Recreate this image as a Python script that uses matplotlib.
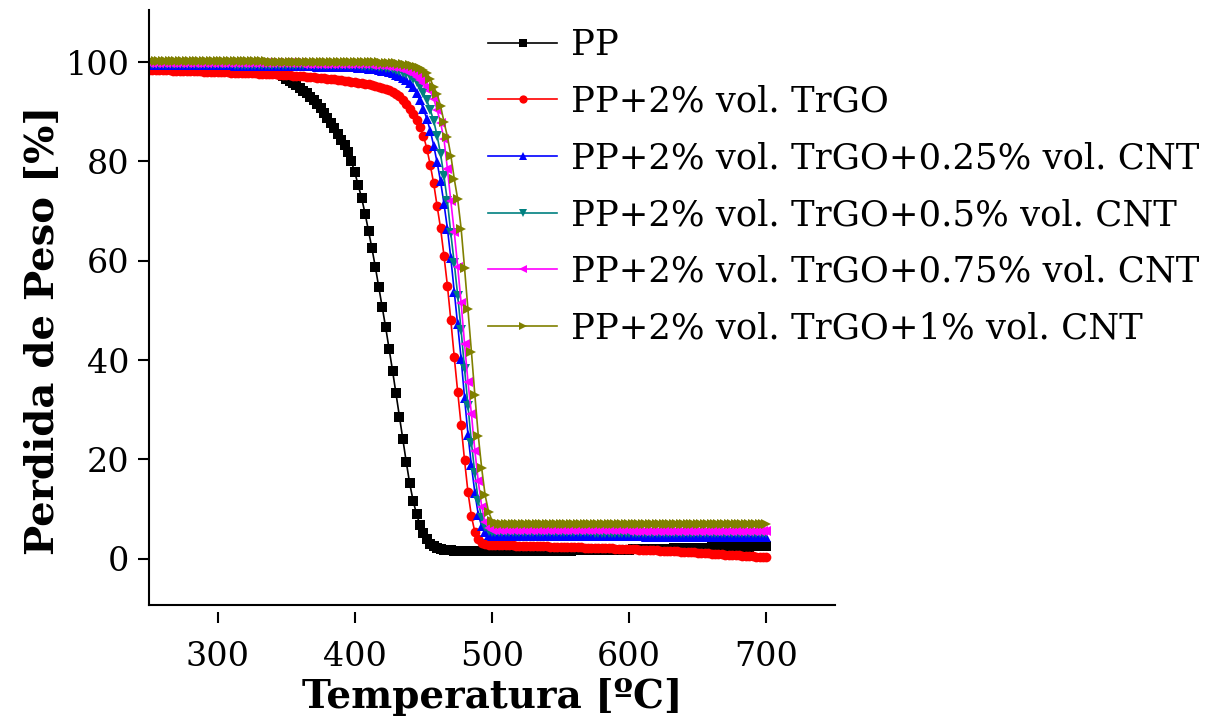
import numpy as np
import matplotlib
matplotlib.use("Agg")
import matplotlib.pyplot as plt

plt.rcParams['font.family'] = ['DejaVu Serif']

# Temperature grid of the TGA runs (deg C), one sample every 2.5 C
temperature = np.arange(250.0, 700.0 + 1e-9, 2.5)

labels = ["PP",
          "PP+2% vol. TrGO",
          "PP+2% vol. TrGO+0.25% vol. CNT",
          "PP+2% vol. TrGO+0.5% vol. CNT",
          "PP+2% vol. TrGO+0.75% vol. CNT",
          "PP+2% vol. TrGO+1% vol. CNT"]

pp = [99.3, 99.3, 99.3, 99.3, 99.3, 99.2, 99.2, 99.2, 99.2, 99.2,
      99.2, 99.2, 99.2, 99.2, 99.1, 99.1, 99.1, 99.1, 99.1, 99.1,
      99.1, 99.1, 99.0, 99.0, 99.0, 99.0, 99.0, 98.9, 98.9, 98.9,
      98.9, 98.9, 98.8, 98.7, 98.6, 98.4, 98.2, 97.9, 97.6, 97.2,
      96.7, 96.3, 95.9, 95.4, 94.8, 94.2, 93.7, 93.0, 92.3, 91.6,
      90.7, 89.8, 88.8, 87.8, 86.8, 85.6, 84.4, 83.3, 82.0, 80.0,
      77.8, 75.2, 72.6, 69.5, 66.0, 62.5, 58.7, 54.7, 50.7, 46.6,
      42.3, 37.9, 33.3, 28.6, 24.1, 19.5, 15.2, 11.7, 9.0, 6.8,
      5.2, 3.9, 3.0, 2.5, 2.1, 1.9, 1.8, 1.7, 1.7, 1.6,
      1.6, 1.6, 1.6, 1.6, 1.5, 1.5, 1.5, 1.5, 1.5, 1.5,
      1.5, 1.5, 1.5, 1.5, 1.5, 1.5, 1.5, 1.5, 1.5, 1.5,
      1.5, 1.5, 1.6, 1.6, 1.6, 1.6, 1.6, 1.6, 1.6, 1.6,
      1.6, 1.6, 1.6, 1.6, 1.7, 1.7, 1.7, 1.7, 1.7, 1.7,
      1.7, 1.7, 1.7, 1.8, 1.8, 1.8, 1.8, 1.8, 1.8, 1.8,
      1.8, 1.9, 1.9, 1.9, 1.9, 1.9, 1.9, 2.0, 2.0, 2.0,
      2.0, 2.0, 2.0, 2.1, 2.1, 2.1, 2.1, 2.1, 2.1, 2.2,
      2.2, 2.2, 2.2, 2.2, 2.3, 2.3, 2.3, 2.3, 2.3, 2.3,
      2.4, 2.4, 2.4, 2.4, 2.4, 2.4, 2.5, 2.5, 2.5, 2.5,
      2.5]

trgo = [98.5, 98.5, 98.5, 98.4, 98.4, 98.4, 98.4, 98.3, 98.3, 98.3,
        98.3, 98.3, 98.2, 98.2, 98.2, 98.2, 98.1, 98.1, 98.1, 98.1,
        98.0, 98.0, 98.0, 98.0, 97.9, 97.9, 97.9, 97.9, 97.8, 97.8,
        97.8, 97.8, 97.7, 97.7, 97.7, 97.7, 97.6, 97.6, 97.5, 97.5,
        97.4, 97.4, 97.3, 97.3, 97.2, 97.2, 97.1, 97.1, 97.0, 96.9,
        96.9, 96.8, 96.7, 96.6, 96.6, 96.5, 96.4, 96.3, 96.2, 96.1,
        96.0, 95.9, 95.8, 95.6, 95.5, 95.4, 95.2, 95.0, 94.8, 94.6,
        94.3, 94.0, 93.6, 93.1, 92.4, 91.6, 90.6, 89.6, 88.4, 86.9,
        85.2, 82.6, 79.3, 75.6, 71.0, 66.6, 61.0, 55.0, 48.0, 40.6,
        33.6, 26.9, 19.8, 13.4, 8.6, 5.4, 3.9, 3.2, 2.9, 2.8,
        2.8, 2.8, 2.8, 2.7, 2.7, 2.7, 2.7, 2.6, 2.6, 2.6,
        2.6, 2.6, 2.5, 2.5, 2.5, 2.5, 2.5, 2.4, 2.4, 2.4,
        2.4, 2.4, 2.3, 2.3, 2.3, 2.3, 2.3, 2.2, 2.2, 2.2,
        2.2, 2.2, 2.1, 2.1, 2.1, 2.1, 2.0, 2.0, 2.0, 2.0,
        1.9, 1.9, 1.9, 1.8, 1.8, 1.8, 1.7, 1.7, 1.7, 1.6,
        1.6, 1.6, 1.5, 1.5, 1.5, 1.4, 1.4, 1.3, 1.3, 1.3,
        1.2, 1.2, 1.1, 1.1, 1.0, 1.0, 0.9, 0.9, 0.8, 0.8,
        0.8, 0.7, 0.7, 0.6, 0.6, 0.5, 0.5, 0.4, 0.4, 0.4,
        0.3]

cnt_025 = [99.4, 99.4, 99.4, 99.4, 99.4, 99.4, 99.4, 99.4, 99.4, 99.4,
           99.4, 99.4, 99.4, 99.4, 99.4, 99.4, 99.4, 99.4, 99.4, 99.4,
           99.4, 99.4, 99.4, 99.4, 99.4, 99.3, 99.3, 99.3, 99.3, 99.3,
           99.3, 99.3, 99.3, 99.3, 99.3, 99.3, 99.3, 99.3, 99.3, 99.3,
           99.3, 99.3, 99.3, 99.2, 99.2, 99.2, 99.2, 99.2, 99.2, 99.1,
           99.1, 99.1, 99.1, 99.1, 99.1, 99.0, 99.0, 99.0, 99.0, 99.0,
           99.0, 98.9, 98.9, 98.8, 98.7, 98.7, 98.6, 98.5, 98.3, 98.2,
           98.0, 97.8, 97.5, 97.2, 96.8, 96.4, 95.8, 95.0, 93.8, 92.3,
           90.6, 88.6, 86.2, 83.2, 79.8, 76.0, 71.5, 66.5, 60.5, 53.8,
           47.2, 40.3, 32.4, 25.0, 18.8, 13.3, 8.9, 6.6, 5.3, 4.7,
           4.6, 4.6, 4.6, 4.6, 4.6, 4.6, 4.6, 4.5, 4.5, 4.5,
           4.5, 4.5, 4.5, 4.5, 4.5, 4.5, 4.5, 4.5, 4.5, 4.5,
           4.5, 4.5, 4.5, 4.5, 4.5, 4.5, 4.5, 4.5, 4.5, 4.5,
           4.5, 4.5, 4.5, 4.5, 4.5, 4.5, 4.5, 4.5, 4.5, 4.5,
           4.5, 4.5, 4.5, 4.5, 4.5, 4.4, 4.4, 4.4, 4.4, 4.4,
           4.4, 4.4, 4.4, 4.4, 4.4, 4.4, 4.4, 4.4, 4.4, 4.4,
           4.4, 4.4, 4.4, 4.4, 4.4, 4.4, 4.4, 4.4, 4.4, 4.4,
           4.4, 4.4, 4.4, 4.4, 4.4, 4.4, 4.4, 4.4, 4.4, 4.4,
           4.4]

cnt_05 = [99.6, 99.6, 99.6, 99.6, 99.6, 99.6, 99.6, 99.6, 99.6, 99.6,
          99.6, 99.6, 99.6, 99.6, 99.6, 99.6, 99.6, 99.6, 99.6, 99.6,
          99.6, 99.6, 99.6, 99.6, 99.6, 99.5, 99.5, 99.5, 99.5, 99.5,
          99.5, 99.5, 99.5, 99.5, 99.5, 99.5, 99.5, 99.5, 99.5, 99.5,
          99.5, 99.5, 99.5, 99.5, 99.5, 99.5, 99.5, 99.5, 99.5, 99.5,
          99.5, 99.5, 99.5, 99.5, 99.5, 99.4, 99.4, 99.4, 99.4, 99.4,
          99.4, 99.4, 99.3, 99.3, 99.3, 99.2, 99.2, 99.1, 99.0, 98.9,
          98.8, 98.6, 98.4, 98.2, 97.9, 97.6, 97.3, 96.7, 96.0, 95.0,
          93.8, 92.3, 90.4, 88.2, 85.2, 81.5, 77.0, 72.0, 65.5, 59.5,
          53.0, 46.0, 38.2, 30.8, 23.4, 17.2, 11.6, 8.2, 6.4, 5.6,
          5.4, 5.4, 5.3, 5.3, 5.3, 5.3, 5.3, 5.3, 5.3, 5.3,
          5.3, 5.3, 5.3, 5.3, 5.3, 5.3, 5.3, 5.3, 5.3, 5.3,
          5.3, 5.3, 5.3, 5.3, 5.3, 5.3, 5.3, 5.3, 5.3, 5.3,
          5.2, 5.2, 5.2, 5.2, 5.2, 5.2, 5.2, 5.2, 5.2, 5.2,
          5.2, 5.2, 5.2, 5.2, 5.2, 5.2, 5.2, 5.2, 5.2, 5.2,
          5.2, 5.2, 5.2, 5.2, 5.2, 5.2, 5.2, 5.2, 5.2, 5.2,
          5.2, 5.2, 5.2, 5.2, 5.2, 5.2, 5.2, 5.2, 5.2, 5.2,
          5.2, 5.2, 5.2, 5.2, 5.2, 5.2, 5.2, 5.2, 5.2, 5.2,
          5.2]

cnt_075 = [99.8, 99.8, 99.8, 99.8, 99.8, 99.8, 99.8, 99.8, 99.8, 99.8,
           99.8, 99.8, 99.8, 99.8, 99.8, 99.8, 99.8, 99.8, 99.8, 99.8,
           99.8, 99.8, 99.8, 99.8, 99.8, 99.8, 99.8, 99.8, 99.8, 99.8,
           99.8, 99.8, 99.8, 99.8, 99.8, 99.8, 99.8, 99.8, 99.8, 99.8,
           99.8, 99.8, 99.8, 99.8, 99.8, 99.7, 99.7, 99.7, 99.7, 99.7,
           99.7, 99.7, 99.7, 99.7, 99.7, 99.7, 99.7, 99.7, 99.7, 99.7,
           99.7, 99.7, 99.6, 99.6, 99.6, 99.5, 99.5, 99.4, 99.4, 99.3,
           99.2, 99.1, 99.0, 98.8, 98.6, 98.3, 98.0, 97.6, 97.1, 96.5,
           95.8, 95.0, 94.2, 92.6, 90.4, 87.8, 84.5, 78.5, 72.0, 65.8,
           58.8, 51.5, 43.3, 35.6, 29.2, 21.8, 15.6, 10.5, 7.4, 6.2,
           5.9, 5.8, 5.8, 5.8, 5.8, 5.8, 5.8, 5.8, 5.8, 5.8,
           5.8, 5.8, 5.8, 5.8, 5.8, 5.8, 5.8, 5.8, 5.8, 5.8,
           5.8, 5.8, 5.8, 5.8, 5.8, 5.8, 5.8, 5.8, 5.8, 5.8,
           5.8, 5.8, 5.8, 5.8, 5.8, 5.8, 5.8, 5.8, 5.8, 5.8,
           5.7, 5.7, 5.7, 5.7, 5.7, 5.7, 5.7, 5.7, 5.7, 5.7,
           5.7, 5.7, 5.7, 5.7, 5.7, 5.7, 5.7, 5.7, 5.7, 5.7,
           5.7, 5.7, 5.7, 5.7, 5.7, 5.7, 5.7, 5.7, 5.7, 5.7,
           5.7, 5.7, 5.7, 5.7, 5.7, 5.7, 5.7, 5.7, 5.7, 5.7,
           5.7]

cnt_1 = [100.2, 100.2, 100.2, 100.2, 100.2, 100.2, 100.2, 100.2, 100.2, 100.2,
         100.2, 100.2, 100.2, 100.2, 100.2, 100.2, 100.2, 100.2, 100.2, 100.2,
         100.2, 100.2, 100.2, 100.2, 100.2, 100.2, 100.2, 100.2, 100.2, 100.2,
         100.2, 100.2, 100.2, 100.2, 100.2, 100.1, 100.1, 100.1, 100.1, 100.1,
         100.1, 100.1, 100.1, 100.1, 100.1, 100.1, 100.1, 100.1, 100.1, 100.1,
         100.1, 100.1, 100.1, 100.1, 100.1, 100.1, 100.1, 100.1, 100.1, 100.1,
         100.1, 100.1, 100.1, 100.0, 100.0, 100.0, 100.0, 100.0, 99.9, 99.9,
         99.9, 99.8, 99.8, 99.7, 99.6, 99.5, 99.4, 99.2, 99.0, 98.8,
         98.5, 97.8, 96.6, 95.0, 93.6, 91.2, 88.0, 85.0, 81.2, 76.5,
         72.4, 66.5, 58.5, 50.2, 41.7, 33.0, 24.8, 18.2, 12.8, 9.5,
         7.7, 7.2, 7.0, 7.0, 7.0, 7.0, 7.0, 7.0, 7.0, 7.0,
         7.0, 7.0, 7.0, 7.0, 7.0, 7.0, 7.0, 7.0, 7.0, 7.0,
         7.0, 7.0, 7.0, 7.0, 7.0, 7.0, 7.0, 7.0, 7.0, 7.0,
         7.0, 7.0, 7.0, 7.0, 7.0, 7.0, 7.0, 7.0, 7.0, 7.0,
         7.0, 7.0, 7.0, 7.0, 7.0, 7.0, 7.0, 7.0, 7.0, 7.0,
         7.0, 7.0, 7.0, 7.0, 7.0, 7.0, 7.0, 7.0, 7.0, 7.0,
         7.0, 7.0, 7.0, 7.0, 7.0, 7.0, 7.0, 7.0, 7.0, 7.0,
         7.0, 7.0, 7.0, 7.0, 7.0, 7.0, 7.0, 7.0, 7.0, 7.0,
         7.0]

series = [pp, trgo, cnt_025, cnt_05, cnt_075, cnt_1]
colors = ["#000000", "#ff0000", "#0000ff", "#008080", "#ff00ff", "#808000"]
markers = ["s", "o", "^", "v", "<", ">"]
x_ticks = [300, 400, 500, 600, 700]
y_ticks = [0, 20, 40, 60, 80, 100]

W, H = 1218, 728
fig = plt.figure(figsize=(W / 100, H / 100), dpi=100)
ax = fig.add_axes([149 / W, 1 - 605 / H, (835 - 149) / W, (605 - 10) / H])

for vals, lab, col, mk in zip(series, labels, colors, markers):
    ax.plot(temperature, vals, color=col, marker=mk, markersize=7,
            linewidth=1.2, markeredgewidth=0, label=lab)

ax.set_xlim(250, 750)
ax.set_ylim(-9.3, 110.5)
ax.set_xticks(x_ticks)
ax.set_yticks(y_ticks)

for s in ["top", "right"]:
    ax.spines[s].set_visible(False)
ax.spines["left"].set_linewidth(1.5)
ax.spines["bottom"].set_position(("outward", 5))
ax.spines["bottom"].set_color("none")
ax.axhline(-9.3, color="black", linewidth=1.5, clip_on=False)

ax.tick_params(axis="both", direction="out", labelsize=24, width=1.5)
ax.tick_params(axis="y", length=8, pad=6)
ax.tick_params(axis="x", length=8, pad=13)

ax.set_xlabel("Temperatura [ºC]", fontsize=28, fontweight="bold")
ax.set_ylabel("Perdida de Peso [%]", fontsize=29, fontweight="bold")
ax.xaxis.set_label_coords((492 - 149) / 686, (605 - 678) / 595)
ax.yaxis.set_label_coords((62 - 149) / 686, (605 - 330) / 595)

fig.legend(loc="upper left", bbox_to_anchor=(488 / W, 1 - 28 / H),
           frameon=False, fontsize=25.5, handlelength=1.95, handletextpad=0.4,
           labelspacing=0.64, borderpad=0, borderaxespad=0, numpoints=1,
           markerscale=0.85)

fig.savefig("out.png", dpi=100)
